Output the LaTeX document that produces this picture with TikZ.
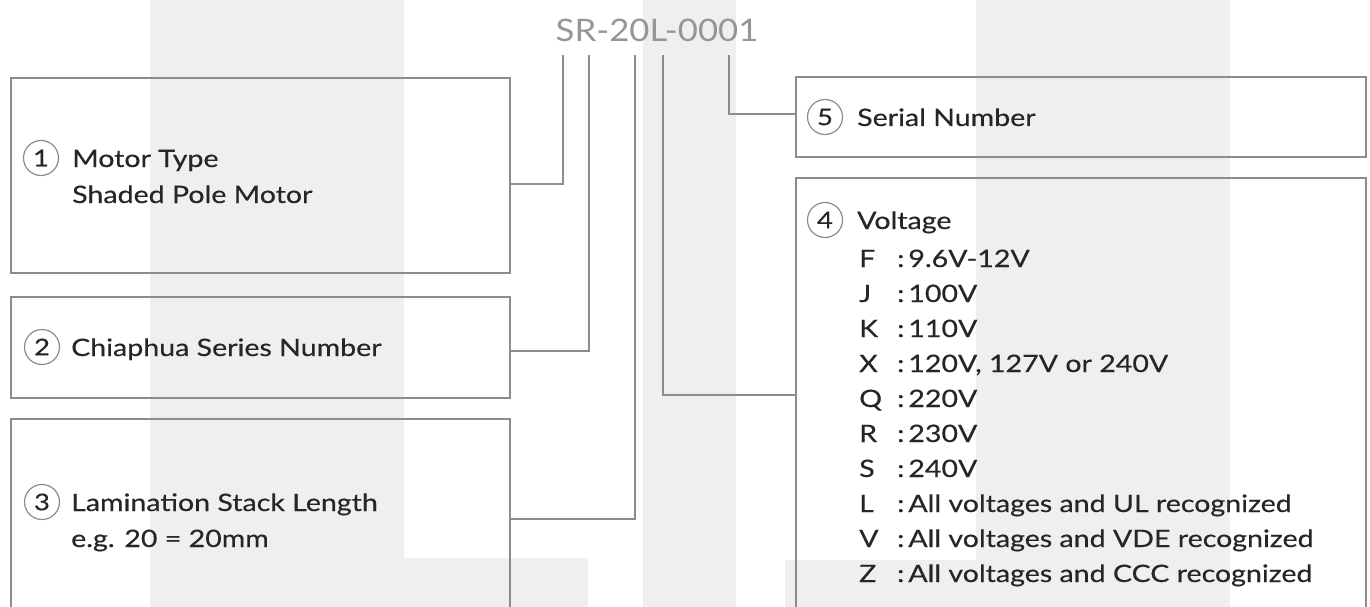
\documentclass[tikz,border=0pt]{standalone}
\usepackage{fontspec}
\setmainfont[FakeStretch=1.19,FakeBold=0.4]{Lato}
\newfontfamily\codefont[FakeStretch=1.12]{Lato}
\definecolor{stripe}{RGB}{239,239,239}
\definecolor{frame}{RGB}{140,140,140}
\definecolor{ink}{RGB}{38,38,38}
\definecolor{codegray}{RGB}{150,150,150}
\begin{document}
\begin{tikzpicture}[x=1pt,y=-1pt,
  boxnode/.style={draw=frame,line width=1.9pt,rectangle,inner sep=0pt,anchor=north west},
  wire/.style={draw=frame,line width=1.9pt},
  num/.style={circle,draw=frame,line width=1.2pt,minimum size=35pt,inner sep=0pt,font=\fontsize{23}{23}\selectfont,text=ink},
  lab/.style={anchor=base west,inner sep=0pt,font=\fontsize{24}{36}\selectfont,text=ink},
  codetext/.style={inner sep=0pt,font=\codefont\fontsize{31}{31}\selectfont,text=codegray}
]
\clip (0,0) rectangle (1370,607);
\fill[white] (0,0) rectangle (1370,607);
% background stripes
\fill[stripe] (150,0) rectangle (404,607);
\fill[stripe] (643,0) rectangle (736,607);
\fill[stripe] (976,0) rectangle (1230,607);
\fill[stripe] (404,558) rectangle (588,607);
\fill[stripe] (785,560) rectangle (976,607);

% code
\node[codetext] (code) at (657,30) {SR-20L-0001};
\coordinate (t1) at (563,55);
\coordinate (t2) at (589,55);
\coordinate (t3) at (635,55);
\coordinate (t4) at (663,55);
\coordinate (t5) at (729,55);

% boxes
\node[boxnode,minimum width=499pt,minimum height=195pt] (b1) at (10,77) {};
\node[boxnode,minimum width=499pt,minimum height=101pt] (b2) at (10,296) {};
\node[boxnode,minimum width=499pt,minimum height=220pt] (b3) at (10,418) {};
\node[boxnode,minimum width=570pt,minimum height=80pt] (b5) at (795,76) {};
\node[boxnode,minimum width=570pt,minimum height=460pt] (b4) at (795,177) {};

% box contents
\node[num] (n1) at (41,158) {1};
\node[lab] (l1) at (72,167) {\begin{tabular}[t]{@{}l@{}}Motor Type\\Shaded Pole Motor\end{tabular}};
\node[num] (n2) at (42,347) {2};
\node[lab] (l2) at (71,356) {Chiaphua Series Number};
\node[num] (n3) at (42,502) {3};
\node[lab] (l3) at (71,511) {\begin{tabular}[t]{@{}l@{}}Lamination Stack Length\\e.g. 20 = 20mm\end{tabular}};
\node[num] (n5) at (825,117) {5};
\node[lab] (l5) at (857,126) {Serial Number};
\node[num] (n4) at (825,220) {4};
\node[lab] (l4) at (857,229) {Voltage};
\node[lab,font=\fontsize{24}{35}\selectfont] (l4list) at (859,267) {\begin{tabular}[t]{@{}l@{}}
\makebox[38pt][l]{F}:\,9.6V-12V\\
\makebox[38pt][l]{J}:\,100V\\
\makebox[38pt][l]{K}:\,110V\\
\makebox[38pt][l]{X}:\,120V, 127V or 240V\\
\makebox[38pt][l]{Q}:\,220V\\
\makebox[38pt][l]{R}:\,230V\\
\makebox[38pt][l]{S}:\,240V\\
\makebox[38pt][l]{L}:\,All voltages and UL recognized\\
\makebox[38pt][l]{V}:\,All voltages and VDE recognized\\
\makebox[38pt][l]{Z}:\,All voltages and CCC recognized
\end{tabular}};

% connectors
\draw[wire] (t1) |- ([yshift=-8.5pt]b1.east);
\draw[wire] (t2) |- ([yshift=-3.5pt]b2.east);
\draw[wire] (t3) |- ([yshift=-101pt]b3.north east);
\draw[wire] (t4) |- ([yshift=-218pt]b4.north west);
\draw[wire] (t5) |- ([yshift=3pt]b5.west);
\end{tikzpicture}
\end{document}
